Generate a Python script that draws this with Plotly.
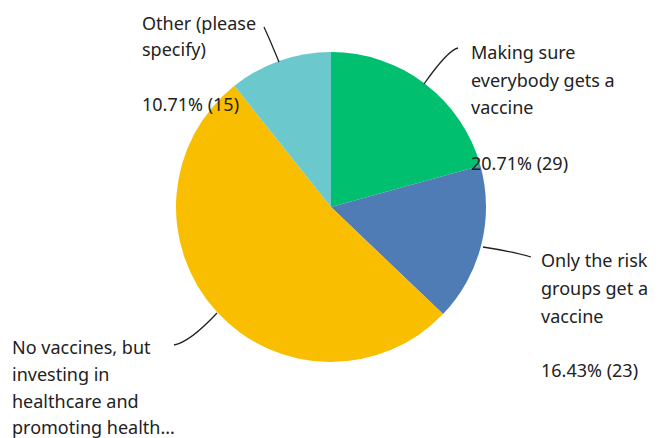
import plotly.graph_objects as go

categories = ["Making sure everybody gets a vaccine",
              "Only the risk groups get a vaccine",
              "No vaccines, but investing in healthcare and promoting health...",
              "Other (please specify)"]
counts = [29, 23, 73, 15]
percents = ["20.71%", "16.43%", "10.71%"]
colors = ["#00BF6F", "#507CB6", "#F9BE00", "#6BC8CD"]

W, H = 662, 438
OFF = 8  # page body margin
cx, cy, r = 331 - OFF, 207 - OFF, 155

fig = go.Figure(go.Pie(
    labels=categories, values=counts, sort=False, direction="clockwise",
    rotation=0, marker=dict(colors=colors, line=dict(width=0)),
    textinfo="none", hoverinfo="label+value+percent", showlegend=False,
    domain=dict(x=[(cx - r) / W, (cx + r) / W], y=[(H - cy - r) / H, (H - cy + r) / H]),
))

def px(x, y):
    return (x - OFF) / W, 1 - (y - OFF) / H

FONT = dict(family="Noto Sans, sans-serif", size=18, color="#222222")

label_lines = [
    (142, 23, "Other (please"), (142, 49, "specify)"),
    (142, 104, f"{percents[2]} ({counts[3]})"),
    (471, 52, "Making sure"), (471, 80, "everybody gets a"), (471, 107, "vaccine"),
    (471, 163, f"{percents[0]} ({counts[0]})"),
    (541, 260, "Only the risk"), (541, 288, "groups get a"), (541, 316, "vaccine"),
    (541, 370, f"{percents[1]} ({counts[1]})"),
    (12, 347, "No vaccines, but"), (12, 374, "investing in"),
    (12, 401, "healthcare and"), (12, 427, "promoting health..."),
]
for x, y, t in label_lines:
    X, Y = px(x, y)
    fig.add_annotation(x=X, y=Y, xref="paper", yref="paper", text=t, showarrow=False,
                       xanchor="left", yanchor="middle", font=FONT,
                       xshift=-2)

def curve(p0, c, p1):
    a, b, d = px(*p0), px(*c), px(*p1)
    return f"M {a[0]},{a[1]} Q {b[0]},{b[1]} {d[0]},{d[1]}"

leaders = [
    ((264, 27), (270, 40), (279, 62)),
    ((458, 48), (448, 50), (424, 84)),
    ((483, 247), (515, 252), (531, 257)),
    ((174, 345), (190, 342), (217, 313)),
]
for p0, c, p1 in leaders:
    fig.add_shape(type="path", path=curve(p0, c, p1), xref="paper", yref="paper",
                  line=dict(color="#222222", width=1.3))

fig.update_layout(width=W, height=H, margin=dict(l=0, r=0, t=0, b=0),
                  paper_bgcolor="white", plot_bgcolor="white")
fig.write_html("out.html")
